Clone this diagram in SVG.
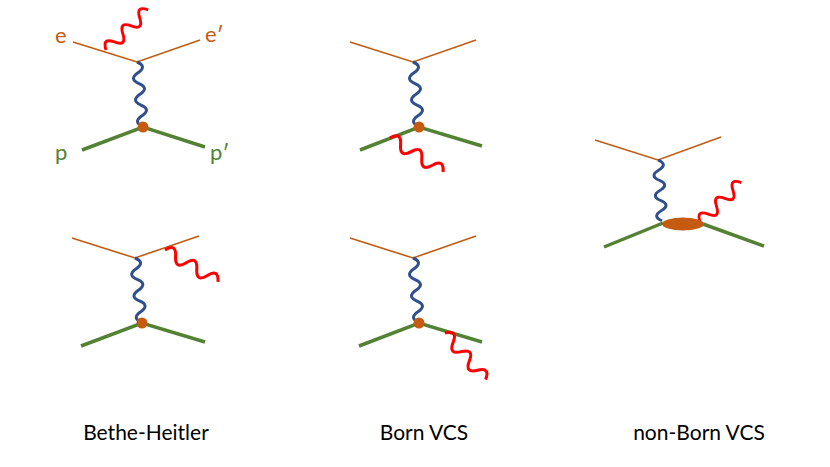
<svg xmlns="http://www.w3.org/2000/svg" xmlns:xlink="http://www.w3.org/1999/xlink" width="830" height="467" viewBox="0 0 830 467">
<style>
.e{stroke:#c55a11;stroke-width:1.6;fill:none}
.p{stroke:#548235;stroke-width:3.5;fill:none}
.bw{stroke:#2f4f8f;stroke-width:3;fill:none}
.rw{stroke:#ff0000;stroke-width:3;fill:none}
.v{fill:#c55a11}
.lab{font-family:Lato,"Liberation Sans",sans-serif;font-size:21px;fill:#000;text-anchor:middle}
.le{font-family:Lato,"Liberation Sans",sans-serif;font-size:22px;fill:#c55a11}
.lp{font-family:Lato,"Liberation Sans",sans-serif;font-size:22px;fill:#548235}
</style>
<defs>
<path id="blue" class="bw" d="M0,0 q5.4,-10 10.8,0 t10.8,0 t10.8,0 t10.8,0 t10.8,0 t10.8,0"/>
<path id="red" class="rw" d="M0,0 q6,-12 12,0 t12,0 t12,0 t12,0 t12,0"/>
</defs>
<g id="connectors">
<!-- BH top -->
<polyline class="e" points="73,42 137,62 200,40"/>
<polyline class="p" points="82,150 143,127 205,147"/>
<use href="#blue" transform="translate(137,62) rotate(84.7)"/>
<use href="#red" transform="translate(106,50) rotate(-43.6) scale(0.97,1)"/>
<!-- BH bottom -->
<polyline class="e" points="72,238 135,258 199,236"/>
<polyline class="p" points="81,346 142,323 205,342"/>
<use href="#blue" transform="translate(135,258) rotate(84)"/>
<use href="#red" transform="translate(165,250) rotate(31) scale(1.03,1)"/>
<!-- Born top -->
<polyline class="e" points="350,42 413,62 476,40"/>
<polyline class="p" points="360,150 419,127 482,146"/>
<use href="#blue" transform="translate(413,62) rotate(84.7)"/>
<use href="#red" transform="translate(390,138) rotate(32.7) scale(1.05,1)"/>
<!-- Born bottom -->
<polyline class="e" points="350,238 413,258 476,236"/>
<polyline class="p" points="359,346 419,323 482,342"/>
<use href="#blue" transform="translate(413,258) rotate(84.7)"/>
<use href="#red" transform="translate(445,333) rotate(48.9) scale(1.03,1)"/>
<!-- non-Born -->
<polyline class="e" points="595,140 658,160 721,137"/>
<polyline class="p" points="604,247 663,223"/>
<polyline class="p" points="703,224 764,246"/>
<use href="#blue" transform="translate(658,160) rotate(86.2) scale(0.94,1)"/>
<use href="#red" transform="translate(700,222) rotate(-43.6) scale(0.95,1)"/>
</g>
<g id="v1"><circle class="v" cx="143" cy="127" r="5.5"/></g>
<g id="v2"><circle class="v" cx="142" cy="323" r="5.5"/></g>
<g id="v3"><circle class="v" cx="419" cy="127" r="5.5"/></g>
<g id="v4"><circle class="v" cx="419" cy="323" r="5.5"/></g>
<g id="blob"><ellipse class="v" cx="683" cy="224" rx="21" ry="6.5"/></g>
<g id="labels">
<text class="le" x="55" y="43">e</text>
<text class="le" x="205" y="42">e′</text>
<text class="lp" x="55" y="160">p</text>
<text class="lp" x="210" y="160">p′</text>
<text class="lab" x="146" y="440">Bethe-Heitler</text>
<text class="lab" x="424" y="440">Born VCS</text>
<text class="lab" x="699" y="440">non-Born VCS</text>
</g>
</svg>
